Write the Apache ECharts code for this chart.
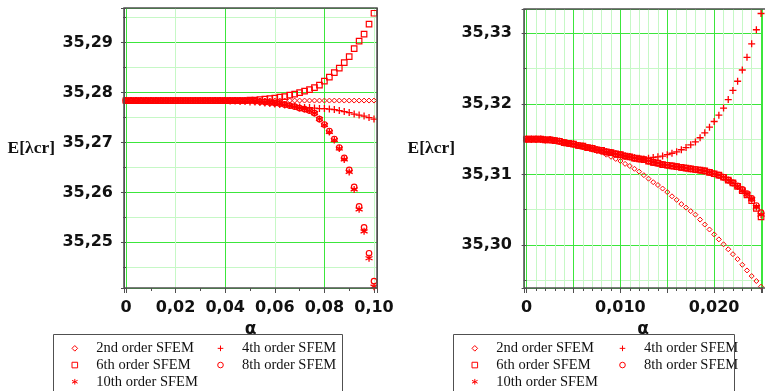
<!DOCTYPE html>
<html><head><meta charset="utf-8">
<script src="https://cdn.jsdelivr.net/npm/echarts@6/dist/echarts.min.js"></script>
<style>html,body{margin:0;padding:0;background:#fff;overflow:hidden}#c{width:765px;height:391px}</style>
</head><body><div id="c"></div>
<script>
const seriesNames = ['2nd order SFEM','4th order SFEM','6th order SFEM','8th order SFEM','10th order SFEM'];

const alphaLeft = [0,0.002,0.004,0.006,0.008,0.01,0.012,0.014,0.016,0.018,0.02,0.022,0.024,0.026,0.028,0.03,0.032,0.034,0.036,0.038,0.04,0.042,0.044,0.046,0.048,0.05,0.052,0.054,0.056,0.058,0.06,0.062,0.064,0.066,0.068,0.07,0.072,0.074,0.076,0.078,0.08,0.082,0.084,0.086,0.088,0.09,0.092,0.094,0.096,0.098,0.1];

const e2Left = [35.2784,35.2784,35.2784,35.2784,35.2784,35.2784,35.2784,35.2784,35.2784,35.2784,35.2784,35.2784,35.2784,35.2784,35.2784,35.2784,35.2784,35.2784,35.2784,35.2784,35.2784,35.2784,35.2784,35.2784,35.2784,35.2784,35.2784,35.2784,35.2784,35.2784,35.2784,35.2784,35.2784,35.2784,35.2784,35.2784,35.2784,35.2784,35.2784,35.2784,35.2784,35.2784,35.2784,35.2784,35.2784,35.2784,35.2784,35.2784,35.2784,35.2784,35.2784];
const e4Left = [35.2784,35.2784,35.2784,35.2784,35.2784,35.2784,35.2784,35.2784,35.2784,35.2784,35.2784,35.2784,35.2784,35.2784,35.2784,35.2784,35.2784,35.2784,35.2784,35.2784,35.2784,35.2783,35.2783,35.2782,35.2782,35.2781,35.2781,35.2780,35.2779,35.2778,35.2777,35.2776,35.2775,35.2774,35.2772,35.2771,35.2770,35.2770,35.2769,35.2768,35.2768,35.2767,35.2766,35.2764,35.2762,35.2760,35.2757,35.2755,35.2753,35.2750,35.2747];
const e6Left = [35.2784,35.2784,35.2784,35.2784,35.2784,35.2784,35.2784,35.2784,35.2784,35.2784,35.2784,35.2784,35.2784,35.2784,35.2784,35.2784,35.2784,35.2784,35.2784,35.2784,35.2784,35.2784,35.2784,35.2784,35.2784,35.2785,35.2785,35.2786,35.2787,35.2788,35.2789,35.2791,35.2792,35.2795,35.2797,35.2800,35.2803,35.2806,35.2810,35.2815,35.2823,35.2831,35.2840,35.2849,35.2860,35.2872,35.2888,35.2903,35.2917,35.2937,35.2959];
const e8Left = [35.2784,35.2784,35.2784,35.2784,35.2784,35.2784,35.2784,35.2784,35.2784,35.2784,35.2784,35.2784,35.2784,35.2784,35.2784,35.2784,35.2784,35.2784,35.2784,35.2784,35.2784,35.2784,35.2784,35.2784,35.2784,35.2784,35.2783,35.2782,35.2781,35.2780,35.2779,35.2778,35.2776,35.2774,35.2772,35.2769,35.2767,35.2764,35.2759,35.2747,35.2736,35.2723,35.2707,35.2690,35.2669,35.2645,35.2611,35.2572,35.2530,35.2478,35.2422];
const e10Left = [35.2784,35.2784,35.2784,35.2784,35.2784,35.2784,35.2784,35.2784,35.2784,35.2784,35.2784,35.2784,35.2784,35.2784,35.2784,35.2784,35.2784,35.2784,35.2784,35.2784,35.2784,35.2784,35.2784,35.2784,35.2784,35.2784,35.2783,35.2782,35.2781,35.2780,35.2779,35.2778,35.2776,35.2774,35.2772,35.2769,35.2767,35.2764,35.2759,35.2747,35.2735,35.2721,35.2705,35.2688,35.2666,35.2641,35.2606,35.2566,35.2522,35.2468,35.2411];

const alphaRight = [0,0.0005,0.001,0.0015,0.002,0.0025,0.003,0.0035,0.004,0.0045,0.005,0.0055,0.006,0.0065,0.007,0.0075,0.008,0.0085,0.009,0.0095,0.01,0.0105,0.011,0.0115,0.012,0.0125,0.013,0.0135,0.014,0.0145,0.015,0.0155,0.016,0.0165,0.017,0.0175,0.018,0.0185,0.019,0.0195,0.02,0.0205,0.021,0.0215,0.022,0.0225,0.023,0.0235,0.024,0.0245,0.025];

const e2Right = [35.3150,35.3150,35.3150,35.3150,35.3149,35.3148,35.3147,35.3146,35.3145,35.3144,35.3142,35.3140,35.3139,35.3137,35.3135,35.3133,35.3131,35.3128,35.3125,35.3122,35.3119,35.3115,35.3112,35.3108,35.3104,35.3099,35.3094,35.3089,35.3085,35.3080,35.3075,35.3069,35.3064,35.3058,35.3053,35.3048,35.3043,35.3036,35.3029,35.3022,35.3015,35.3008,35.3001,35.2994,35.2987,35.2980,35.2972,35.2964,35.2956,35.2949,35.2941];
const e4Right = [35.3150,35.3150,35.3150,35.3150,35.3149,35.3149,35.3148,35.3147,35.3145,35.3144,35.3143,35.3141,35.3140,35.3138,35.3137,35.3135,35.3134,35.3132,35.3131,35.3129,35.3128,35.3126,35.3125,35.3124,35.3123,35.3122,35.3123,35.3124,35.3125,35.3126,35.3128,35.3130,35.3132,35.3135,35.3138,35.3142,35.3146,35.3152,35.3159,35.3167,35.3175,35.3184,35.3194,35.3206,35.3219,35.3232,35.3248,35.3266,35.3285,35.3305,35.3328];
const e6Right = [35.3150,35.3150,35.3150,35.3150,35.3149,35.3149,35.3148,35.3147,35.3145,35.3144,35.3143,35.3141,35.3140,35.3138,35.3137,35.3135,35.3134,35.3132,35.3131,35.3129,35.3128,35.3126,35.3125,35.3123,35.3122,35.3121,35.3119,35.3117,35.3116,35.3114,35.3113,35.3112,35.3111,35.3110,35.3109,35.3108,35.3107,35.3106,35.3105,35.3103,35.3101,35.3099,35.3096,35.3092,35.3088,35.3083,35.3077,35.3071,35.3063,35.3052,35.3040];
const e8Right = [35.3150,35.3150,35.3150,35.3150,35.3149,35.3149,35.3148,35.3147,35.3145,35.3144,35.3143,35.3141,35.3140,35.3138,35.3137,35.3135,35.3134,35.3132,35.3131,35.3129,35.3128,35.3126,35.3125,35.3123,35.3122,35.3121,35.3119,35.3117,35.3116,35.3114,35.3113,35.3112,35.3111,35.3110,35.3109,35.3108,35.3107,35.3106,35.3105,35.3103,35.3101,35.3099,35.3096,35.3092,35.3088,35.3084,35.3079,35.3073,35.3066,35.3056,35.3046];
const e10Right = [35.3150,35.3150,35.3150,35.3150,35.3149,35.3149,35.3148,35.3147,35.3145,35.3144,35.3143,35.3141,35.3140,35.3138,35.3137,35.3135,35.3134,35.3132,35.3131,35.3129,35.3128,35.3126,35.3125,35.3123,35.3122,35.3121,35.3119,35.3117,35.3116,35.3114,35.3113,35.3112,35.3111,35.3110,35.3109,35.3108,35.3107,35.3106,35.3105,35.3103,35.3101,35.3099,35.3096,35.3092,35.3088,35.3083,35.3077,35.3072,35.3065,35.3054,35.3043];

const leftSets = [e2Left, e4Left, e6Left, e8Left, e10Left];
const rightSets = [e2Right, e4Right, e6Right, e8Right, e10Right];

const RED = '#ff0000';
const BRIGHT = '#3ce63c';
const LIGHT = '#c6f8c6';
const FRAME = '#505050';
const symbols = [
  {symbol: 'diamond', size: 5, bw: 1},
  {symbol: 'path://M5,0V10M0,5H10', size: 7, bw: 1.3},
  {symbol: 'rect', size: 5.5, bw: 1.2},
  {symbol: 'circle', size: 5.5, bw: 1.2},
  {symbol: 'path://M5,0V10M0.67,2.5L9.33,7.5M0.67,7.5L9.33,2.5', size: 7, bw: 1.3}
];

const LG = {left: 124, top: 8, width: 253, height: 280};
const RG = {left: 524, top: 9, width: 245.4, height: 279};

function fmtY(v) {
  const k = v * 100;
  return Math.abs(k - Math.round(k)) < 1e-6 ? v.toFixed(2).replace('.', ',') : '';
}
function fmtXL(v) {
  if (Math.abs(v) < 1e-9) return '0';
  const k = v * 50;
  return (v > 0 && Math.abs(k - Math.round(k)) < 1e-6) ? v.toFixed(2).replace('.', ',') : '';
}
function fmtXR(v) {
  if (Math.abs(v) < 1e-9) return '0';
  const k = v * 100;
  return (v > 0 && Math.abs(k - Math.round(k)) < 1e-6) ? v.toFixed(3).replace('.', ',') : '';
}

const labelFont = {fontFamily: 'DejaVu Sans', fontWeight: 'bold', fontSize: 16, color: '#111'};
const tick = {show: true, inside: false, length: 5, lineStyle: {color: FRAME, width: 1}};
const minorTickBase = {show: true, length: 3, lineStyle: {color: FRAME, width: 1}};

function xAxisCfg(gridIndex, min, max, fmt, minorSplit, colors, minorSplitShow) {
  return {
    type: 'value', gridIndex, min, max, splitNumber: 5,
    axisLine: {show: false},
    axisTick: tick,
    minorTick: Object.assign({splitNumber: minorSplit}, minorTickBase),
    axisLabel: Object.assign({formatter: fmt, margin: 12}, labelFont),
    splitLine: {show: true, lineStyle: {color: colors, width: 1}},
    minorSplitLine: {show: minorSplitShow, lineStyle: {color: LIGHT, width: 1}},
    name: 'α', nameLocation: 'middle', nameGap: 32,
    nameTextStyle: {fontFamily: 'DejaVu Sans', fontWeight: 'bold', fontSize: 17, color: '#111'}
  };
}
function yAxisCfg(gridIndex, min, max, splitNumber, margin) {
  return {
    type: 'value', gridIndex, min, max, splitNumber,
    axisLine: {show: false},
    axisTick: tick,
    minorTick: Object.assign({splitNumber: 2}, minorTickBase),
    axisLabel: Object.assign({formatter: fmtY, margin}, labelFont),
    splitLine: {show: true, lineStyle: {color: BRIGHT, width: 1}},
    minorSplitLine: {show: true, lineStyle: {color: LIGHT, width: 1}},
    name: 'E[λcr]', nameLocation: 'middle', nameRotate: 0, nameGap: 69,
    nameTextStyle: {fontFamily: 'Liberation Serif', fontWeight: 'bold', fontSize: 17.5, color: '#111'}
  };
}

const series = [];
[[alphaLeft, leftSets, 0], [alphaRight, rightSets, 1]].forEach(([xs, sets, gi]) => {
  sets.forEach((vals, k) => {
    series.push({
      type: 'line', name: seriesNames[k], xAxisIndex: gi, yAxisIndex: gi,
      data: xs.map((x, i) => [x, vals[i]]),
      symbol: symbols[k].symbol, symbolSize: symbols[k].size, showSymbol: true,
      lineStyle: {width: 0, opacity: 0},
      itemStyle: {color: 'rgba(0,0,0,0)', borderColor: RED, borderWidth: symbols[k].bw},
      emphasis: {disabled: true}, silent: true, clip: true, z: 3
    });
  });
});

const legendBase = {
  orient: 'vertical', top: 340, itemWidth: 33, itemHeight: 7, itemGap: 0, padding: 0,
  selectedMode: false,
  itemStyle: {borderWidth: 1, borderColor: RED, color: 'rgba(0,0,0,0)'},
  lineStyle: {width: 0, opacity: 0},
  textStyle: {fontFamily: 'Liberation Serif', fontSize: 14.5, color: '#111', lineHeight: 16.7}
};
const col1 = [seriesNames[0], seriesNames[2], seriesNames[4]];
const col2 = [seriesNames[1], seriesNames[3]];

const option = {
  animation: false,
  backgroundColor: '#fff',
  grid: [
    Object.assign({containLabel: false}, LG),
    Object.assign({containLabel: false}, RG)
  ],
  xAxis: [
    xAxisCfg(0, -0.000806, 0.10121, fmtXL, 2, [FRAME, BRIGHT, LIGHT, BRIGHT, LIGHT, BRIGHT, LIGHT, FRAME], false),
    xAxisCfg(1, -0.00028, 0.0251, fmtXR, 5, BRIGHT, true)
  ],
  yAxis: [
    yAxisCfg(0, 35.24084, 35.29695, 6, 11),
    yAxisCfg(1, 35.29391, 35.33344, 4, 12)
  ],
  legend: [
    Object.assign({data: col1, left: 58.3}, legendBase),
    Object.assign({data: col2, left: 204}, legendBase),
    Object.assign({data: col1, left: 458.3}, legendBase),
    Object.assign({data: col2, left: 606}, legendBase)
  ],
  graphic: [
    {type: 'rect', z: 100, silent: true, shape: {x: LG.left, y: LG.top, width: LG.width, height: LG.height}, style: {fill: 'none', stroke: FRAME, lineWidth: 1.5}},
    {type: 'rect', z: 100, silent: true, shape: {x: RG.left, y: RG.top, width: RG.width + 10, height: RG.height}, style: {fill: 'none', stroke: FRAME, lineWidth: 1.5}},
    {type: 'rect', z: 100, silent: true, shape: {x: 53.5, y: 334.5, width: 289, height: 70}, style: {fill: 'none', stroke: FRAME, lineWidth: 1}},
    {type: 'rect', z: 100, silent: true, shape: {x: 453.5, y: 334.5, width: 281, height: 70}, style: {fill: 'none', stroke: FRAME, lineWidth: 1}}
  ],
  series
};
echarts.init(document.getElementById('c'), null, {renderer: 'canvas'}).setOption(option);
</script>
</body></html>
